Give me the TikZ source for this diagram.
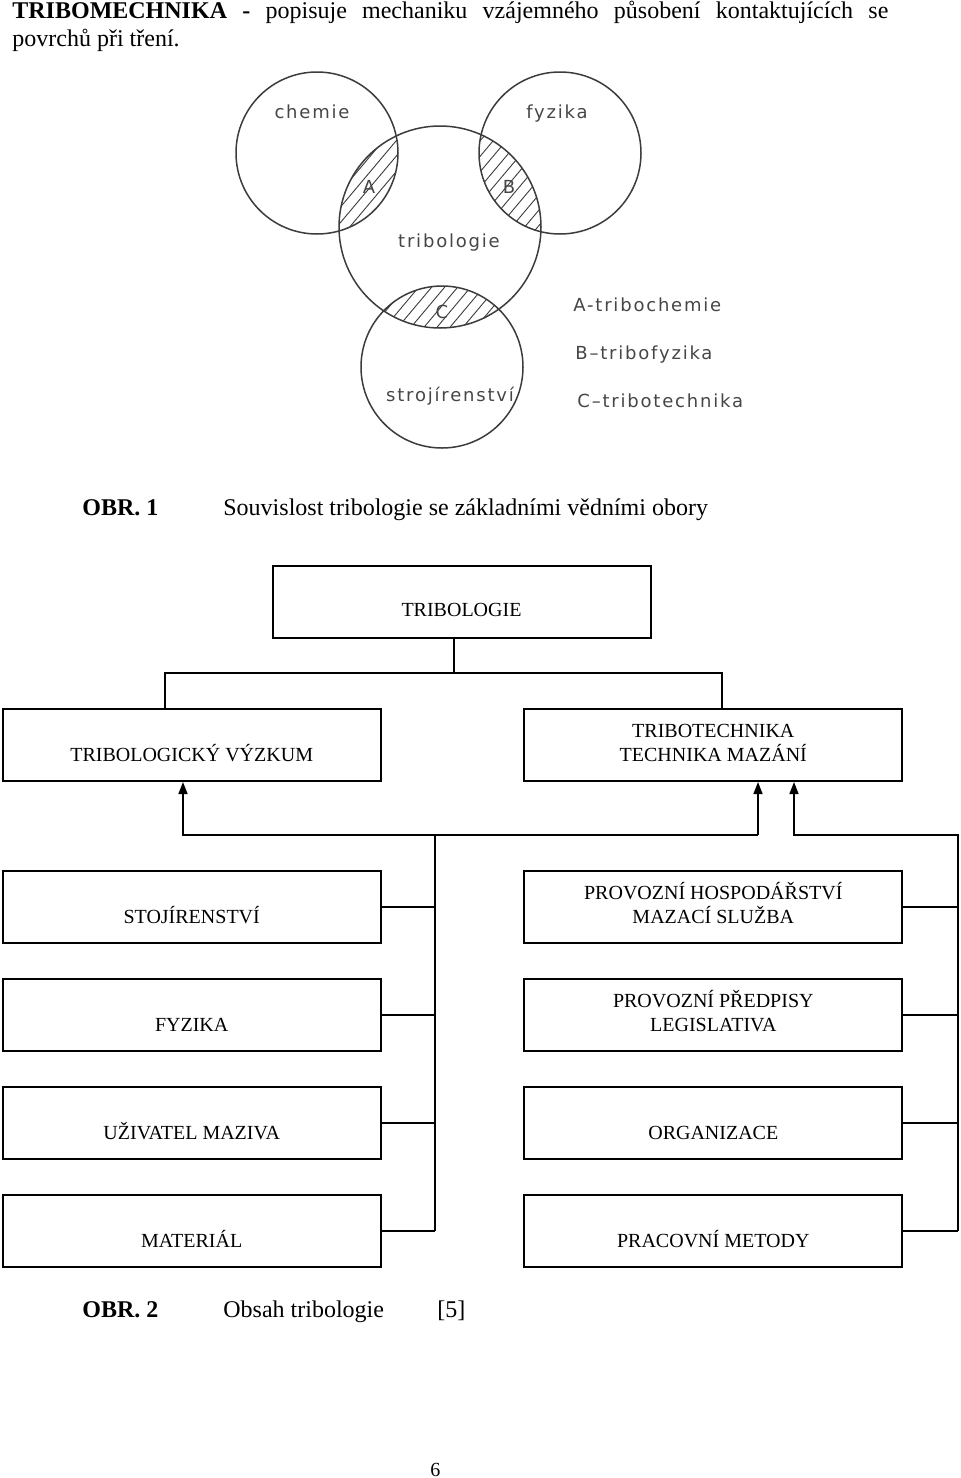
\documentclass[tikz,border=0pt]{standalone}
\usepackage{fontspec}
\setmainfont{Liberation Serif}
\newfontfamily\vennfont[LetterSpace=10]{DejaVu Sans}
\usetikzlibrary{arrows.meta}
\definecolor{vgray}{RGB}{60,60,60}
\definecolor{vtextc}{RGB}{70,70,70}
\begin{document}
\begin{tikzpicture}[x=0.5pt,y=-0.5pt,
  box/.style={draw=black, line width=1pt, rectangle, minimum width=189pt, minimum height=36pt, inner sep=0pt},
  lbl/.style={anchor=base, inner sep=0pt, font=\fontsize{10}{12}\selectfont},
  body/.style={anchor=base west, inner sep=0pt, font=\fontsize{12}{14}\selectfont},
  conn/.style={line width=0.8pt},
  arr/.style={conn, -{Triangle[length=6pt,width=4.5pt]}},
  vline/.style={draw=vgray, line width=0.75pt},
  vtext/.style={anchor=base, inner sep=0pt, text=vtextc, font=\vennfont\fontsize{9}{10}\selectfont},
  vleg/.style={vtext, anchor=base west},
  hatch/.style={draw=vgray, line width=0.45pt}
]
\useasboundingbox (0,0) rectangle (960,1478);

% ---------- heading text ----------
\node[body] (head1) at (12,18.5) {\makebox[438pt][s]{\textbf{TRIBOMECHNIKA -} popisuje mechaniku vzájemného působení kontaktujících se}};
\node[body] (head2) at (12,46) {povrchů při tření.};

% ---------- Venn diagram ----------
\coordinate (cCh) at (317,153);
\coordinate (cFy) at (560,153);
\coordinate (cTr) at (440,227);
\coordinate (cSt) at (442,367);
\coordinate (lA) at (372,185);
\coordinate (lB) at (508,185);
\coordinate (lC) at (441,307);

\begin{scope}
  \clip (cCh) circle (81);
  \clip (cTr) circle (101);
  \foreach \i in {-10,...,10}
    \draw[hatch] ([xshift=\i*6.5pt]lA) +(-100,119) -- +(100,-119);
\end{scope}
\begin{scope}
  \clip (cFy) circle (81);
  \clip (cTr) circle (101);
  \foreach \i in {-10,...,10}
    \draw[hatch] ([xshift=\i*6.5pt]lB) +(-100,119) -- +(100,-119);
\end{scope}
\begin{scope}
  \clip (cSt) circle (81);
  \clip (cTr) circle (101);
  \foreach \i in {-10,...,10}
    \draw[hatch] ([xshift=\i*6.5pt]lC) +(-100,119) -- +(100,-119);
\end{scope}

\draw[vline] (cCh) circle (81);
\draw[vline] (cFy) circle (81);
\draw[vline] (cTr) circle (101);
\draw[vline] (cSt) circle (81);

\node[vtext] (tChem) at (312,118) {chemie};
\node[vtext] (tFyz) at (557,118) {fyzika};
\node[vtext] (tTri) at (449,247) {tribologie};
\node[vtext] (tA) at (369,193) {A};
\node[vtext] (tB) at (509,193) {B};
\node[vtext] (tC) at (442,318) {C};
\node[vtext] (tStr) at (450,401) {strojírenství};
\node[vleg] (legA) at (573,311) {A-tribochemie};
\node[vleg] (legB) at (575,359) {B–tribofyzika};
\node[vleg] (legC) at (577,407) {C–tribotechnika};

% ---------- caption 1 ----------
\node[body] (obr1) at (82,515) {\textbf{OBR. 1}};
\node[body] (cap1) at (223,515) {Souvislost tribologie se základními vědními obory};

% ---------- boxes ----------
\node[box] (tri) at (461.5,601.5) {};
\node[lbl] (triT) at (461.5,616) {TRIBOLOGIE};

\node[box] (rv) at (191.7,745) {};
\node[lbl] (rvT) at (191.7,761) {TRIBOLOGICKÝ VÝZKUM};
\node[box] (tt) at (713.3,745) {};
\node[lbl] (ttT1) at (713.3,737) {TRIBOTECHNIKA};
\node[lbl] (ttT2) at (713.3,761) {TECHNIKA MAZÁNÍ};

\node[box] (s1) at (191.7,907) {};
\node[lbl] (s1T) at (191.7,923) {STOJÍRENSTVÍ};
\node[box] (f1) at (191.7,1015) {};
\node[lbl] (f1T) at (191.7,1031) {FYZIKA};
\node[box] (u1) at (191.7,1123) {};
\node[lbl] (u1T) at (191.7,1139) {UŽIVATEL MAZIVA};
\node[box] (m1) at (191.7,1231) {};
\node[lbl] (m1T) at (191.7,1247) {MATERIÁL};

\node[box] (ph) at (713.3,907) {};
\node[lbl] (phT1) at (713.3,899) {PROVOZNÍ HOSPODÁŘSTVÍ};
\node[lbl] (phT2) at (713.3,923) {MAZACÍ SLUŽBA};
\node[box] (pp) at (713.3,1015) {};
\node[lbl] (ppT1) at (713.3,1007) {PROVOZNÍ PŘEDPISY};
\node[lbl] (ppT2) at (713.3,1031) {LEGISLATIVA};
\node[box] (org) at (713.3,1123) {};
\node[lbl] (orgT) at (713.3,1139) {ORGANIZACE};
\node[box] (pm) at (713.3,1231) {};
\node[lbl] (pmT) at (713.3,1247) {PRACOVNÍ METODY};

% ---------- connectors ----------
\coordinate (jT) at (454,673);
\coordinate (xL) at (165,673);
\coordinate (xR) at (722,673);
\draw[conn] (tri.south -| jT) -- (jT);
\draw[conn] (rv.north -| xL) -- (xL) -- (xR) -- (tt.north -| xR);

\coordinate (hL) at (183,835);
\coordinate (hM) at (758,835);
\coordinate (trunk) at (435,835);
\coordinate (hR) at (794,835);
\coordinate (rr) at (958,835);

\draw[arr] (hM) -- (hL) -- (rv.south -| hL);
\draw[arr] (hM) -- (tt.south -| hM);
\draw[conn] (trunk) -- (m1.east -| trunk);
\foreach \n in {s1,f1,u1,m1}
  \draw[conn] (\n.east) -- (\n.east -| trunk);
\draw[arr] (pm.east -| rr) -- (rr) -- (hR) -- (tt.south -| hR);
\foreach \n in {ph,pp,org,pm}
  \draw[conn] (\n.east) -- (\n.east -| rr);

% ---------- caption 2 & page number ----------
\node[body] (obr2) at (82,1317) {\textbf{OBR. 2}};
\node[body] (cap2) at (223,1317) {Obsah tribologie};
\node[body] (ref5) at (437,1317) {[5]};
\node[body, font=\fontsize{10}{12}\selectfont] (pg) at (430,1476) {6};
\end{tikzpicture}
\end{document}
